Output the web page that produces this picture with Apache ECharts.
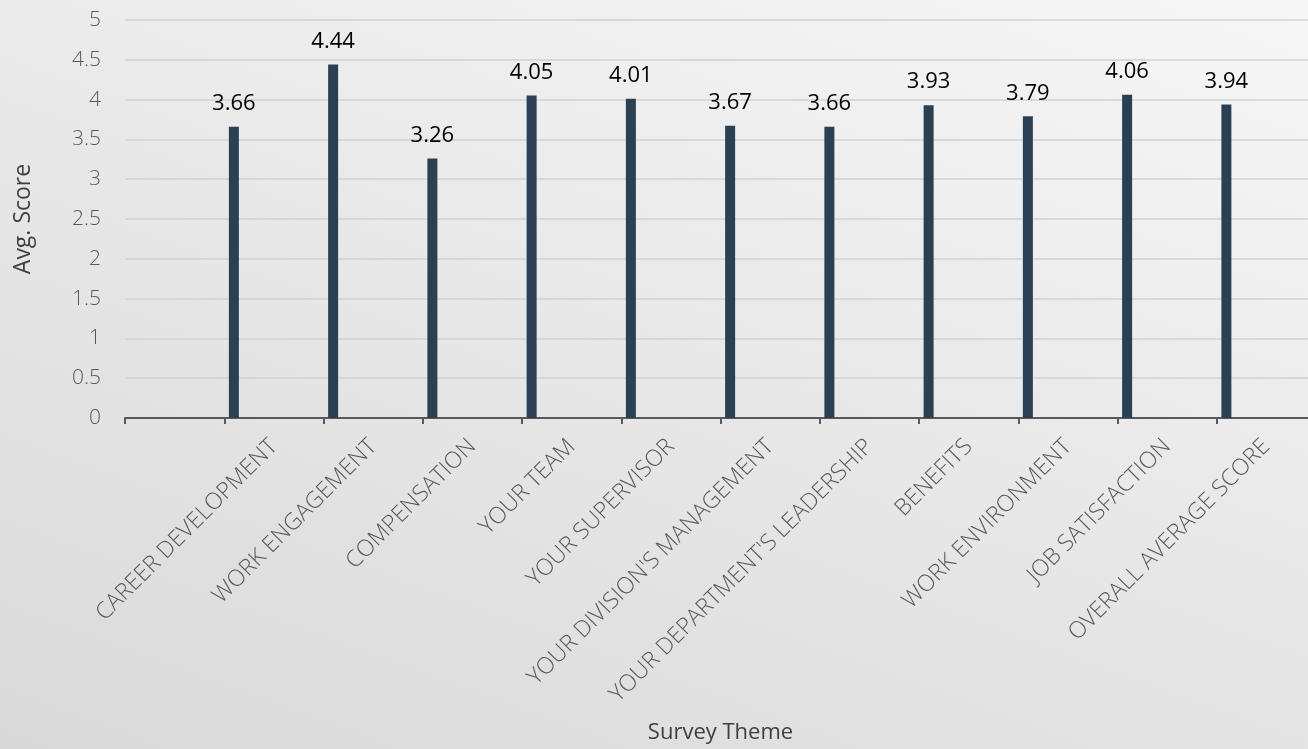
<!DOCTYPE html>
<html>
<head>
<meta charset="utf-8">
<script src="https://cdn.jsdelivr.net/npm/echarts@6/dist/echarts.min.js"></script>
<style>
html,body{margin:0;padding:0;width:1308px;height:749px;overflow:hidden;}
#chart{width:1308px;height:749px;background:linear-gradient(200deg,#f7f7f7 0%,#e9e9e9 45%,#d9d9d9 100%);}
</style>
</head>
<body>
<div id="chart"></div>
<script>
const categories = ['', 'CAREER DEVELOPMENT', 'WORK ENGAGEMENT', 'COMPENSATION', 'YOUR TEAM', 'YOUR SUPERVISOR', "YOUR DIVISION'S MANAGEMENT", "YOUR DEPARTMENT'S LEADERSHIP", 'BENEFITS', 'WORK ENVIRONMENT', 'JOB SATISFACTION', 'OVERALL AVERAGE SCORE'];
const scores = [null, 3.66, 4.44, 3.26, 4.05, 4.01, 3.67, 3.66, 3.93, 3.79, 4.06, 3.94];
const emptySeries = [null, null, null, null, null, null, null, null, null, null, null, null];
const yMin = 0, yMax = 5, yStep = 0.5;

const chart = echarts.init(document.getElementById('chart'), null, {renderer: 'canvas'});
const font = 'Open Sans';
chart.setOption({
  backgroundColor: 'transparent',
  animation: false,
  grid: {left: 125, top: 20, width: 1191, height: 398, containLabel: false, outerBoundsMode: 'none'},
  xAxis: {
    type: 'category',
    data: categories,
    name: 'Survey Theme',
    nameLocation: 'middle',
    nameGap: 304,
    nameTextStyle: {fontFamily: font, fontSize: 22, color: '#404040'},
    axisLine: {show: true, lineStyle: {color: '#595959', width: 2}},
    axisTick: {show: true, alignWithLabel: false, length: 6, lineStyle: {color: '#595959', width: 2}},
    axisLabel: {interval: 0, rotate: 45, margin: 25, fontFamily: font, fontWeight: 300, fontSize: 23, color: '#595959'},
    splitLine: {show: false}
  },
  yAxis: {
    type: 'value',
    min: yMin, max: yMax, interval: yStep,
    name: 'Avg. Score',
    nameLocation: 'middle',
    nameGap: 90,
    nameTextStyle: {fontFamily: font, fontSize: 23, color: '#404040'},
    axisLine: {show: false},
    axisTick: {show: false},
    axisLabel: {margin: 24, fontFamily: font, fontWeight: 300, fontSize: 21, color: '#595959'},
    splitLine: {show: true, lineStyle: {color: '#d2d2d2', width: 1.5}}
  },
  series: [
    {
      type: 'bar',
      data: scores,
      barWidth: 10,
      barGap: '700%',
      itemStyle: {color: '#2b4153'},
      label: {show: true, position: 'top', distance: 12, fontFamily: font, fontSize: 22, color: '#000'}
    },
    {
      type: 'bar',
      data: emptySeries,
      barWidth: 10,
      barGap: '700%',
      itemStyle: {color: 'transparent'}
    }
  ]
});
</script>
</body>
</html>
